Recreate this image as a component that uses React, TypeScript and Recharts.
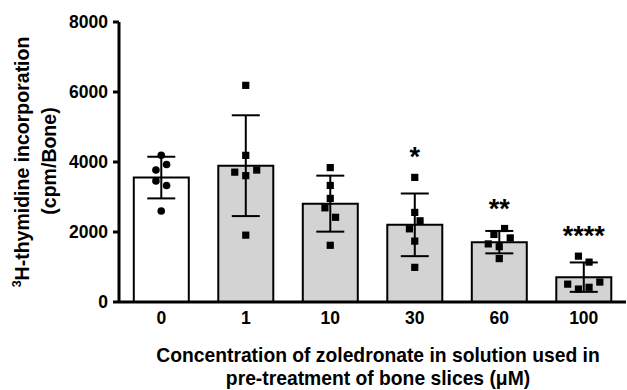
import React from 'react';
import { ComposedChart, Bar, XAxis, YAxis, ErrorBar, Scatter, Cell } from 'recharts';

const categories = ['0', '1', '10', '30', '60', '100'];
const means = [3555, 3895, 2810, 2205, 1710, 710];
const sds = [595, 1440, 800, 895, 320, 420];
const significance = ['', '', '', '*', '**', '****'];
const yTicks = [0, 2000, 4000, 6000, 8000];
const barFills = ['#ffffff', '#d3d3d3', '#d3d3d3', '#d3d3d3', '#d3d3d3', '#d3d3d3'];

const replicateValues = [
  [4190, 3770, 3930, 3460, 3330, 2600],
  [6190, 4190, 3710, 3610, 3770, 1910],
  [3840, 3330, 2960, 2690, 2420, 1620],
  [3560, 2560, 2320, 2090, 1740, 990],
  [2100, 1930, 1830, 1660, 1580, 1240],
  [1310, 1140, 510, 570, 370, 420],
];
const replicateSpread = [
  [0, -0.063, 0.063, -0.063, 0.063, 0],
  [0, 0, -0.13, 0, 0.13, 0],
  [0, 0, 0, -0.063, 0.063, 0],
  [0, 0, 0.063, -0.063, 0, 0],
  [0.063, -0.063, 0.13, -0.13, 0, 0],
  [-0.063, 0.063, -0.19, 0.19, -0.063, 0.063],
];

const FONT = '"Liberation Sans", Arial, Helvetica, sans-serif';

const barData = categories.map((name, i) => ({ name, mean: means[i], sd: sds[i] }));

const pointsFor = (groups: number[]) =>
  groups.flatMap((g) =>
    replicateValues[g].map((v, j) => ({ x: g + replicateSpread[g][j], y: v }))
  );
const circlePoints = pointsFor([0]);
const squarePoints = pointsFor([1, 2, 3, 4, 5]);
const starPoints = categories.map((_, i) => ({
  x: i,
  y: Math.max(...replicateValues[i]),
  label: significance[i],
}));

const CircleDot = (p: any) => <circle cx={p.cx} cy={p.cy} r={3.8} fill="#000" />;
const SquareDot = (p: any) => (
  <rect x={p.cx - 3.6} y={p.cy - 3.6} width={7.2} height={7.2} fill="#000" />
);
const StarMark = (p: any) =>
  p.payload && p.payload.label ? (
    <text
      x={p.cx}
      y={p.cy - 11}
      textAnchor="middle"
      fontFamily={FONT}
      fontWeight="bold"
      fontSize={27}
      fill="#000"
    >
      {p.payload.label}
    </text>
  ) : (
    <g />
  );

const YTitle = () => (
  <g fontFamily={FONT} fontWeight="bold" fill="#000">
    <text transform="translate(29,162) rotate(-90)" textAnchor="middle" fontSize={19.5}>
      <tspan fontSize={12.5} dy={-8}>3</tspan>
      <tspan dy={8}>H-thymidine incorporation</tspan>
    </text>
    <text transform="translate(56,161) rotate(-90)" textAnchor="middle" fontSize={19.5}>
      (cpm/Bone)
    </text>
  </g>
);

const XTitle = () => (
  <g fontFamily={FONT} fontWeight="bold" fill="#000" fontSize={19.3}>
    <text x={378} y={362} textAnchor="middle">
      Concentration of zoledronate in solution used in
    </text>
    <text x={378} y={385} textAnchor="middle">
      pre-treatment of bone slices (μM)
    </text>
  </g>
);

const tickStyle = { fill: '#000', fontSize: 17.5, fontWeight: 'bold', fontFamily: FONT };

export default function App() {
  return (
    <div style={{ position: 'absolute', left: 0, top: 0, width: 627, height: 390, background: '#fff' }}>
      <ComposedChart
        width={627}
        height={390}
        data={barData}
        margin={{ top: 22, right: 1, bottom: 0, left: 0 }}
        barCategoryGap="17.5%"
      >
        <XAxis
          dataKey="name"
          type="category"
          height={88}
          axisLine={{ stroke: '#000', strokeWidth: 3 }}
          tickLine={false}
          tickSize={8}
          tickMargin={2}
          tick={tickStyle}
          label={{ content: () => <XTitle /> }}
        />
        <XAxis
          xAxisId="num"
          dataKey="x"
          type="number"
          domain={[-0.5, 5.5]}
          allowDataOverflow
          height={0}
          hide
        />
        <YAxis
          width={119}
          domain={[0, 8000]}
          ticks={yTicks}
          interval={0}
          axisLine={{ stroke: '#000', strokeWidth: 3 }}
          tickLine={{ stroke: '#000', strokeWidth: 3 }}
          tickSize={6}
          tickMargin={5}
          tick={tickStyle}
          label={{ content: () => <YTitle /> }}
        />
        <Bar dataKey="mean" stroke="#000" strokeWidth={2} isAnimationActive={false}>
          {barData.map((_, i) => (
            <Cell key={i} fill={barFills[i]} />
          ))}
          <ErrorBar dataKey="sd" width={14} stroke="#000" strokeWidth={2} isAnimationActive={false} />
        </Bar>
        <Scatter xAxisId="num" data={circlePoints} dataKey="y" shape={CircleDot} isAnimationActive={false} />
        <Scatter xAxisId="num" data={squarePoints} dataKey="y" shape={SquareDot} isAnimationActive={false} />
        <Scatter xAxisId="num" data={starPoints} dataKey="y" shape={StarMark} isAnimationActive={false} />
      </ComposedChart>
    </div>
  );
}
